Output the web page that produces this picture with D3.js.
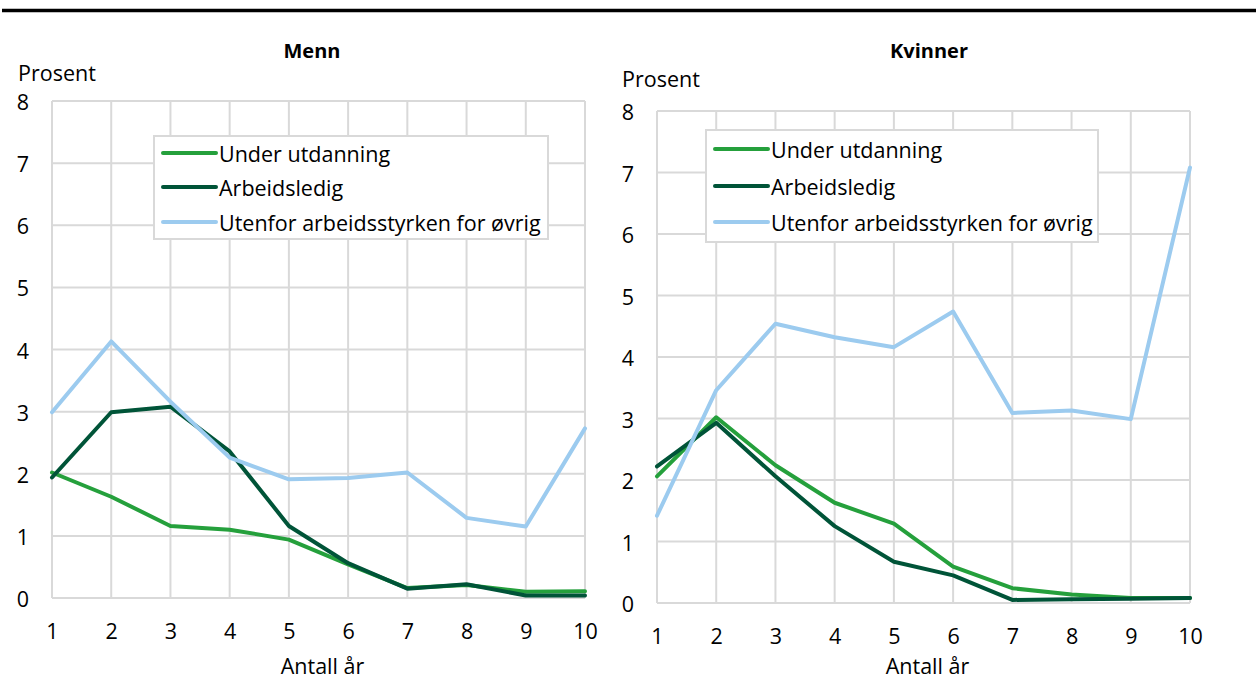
<!DOCTYPE html>
<html>
<head>
<meta charset="utf-8">
<script src="https://cdn.jsdelivr.net/npm/d3@7"></script>
<style>
  html, body { margin: 0; padding: 0; background: #fff; }
  svg { display: block; font-family: "Open Sans", "Noto Sans", sans-serif; }
</style>
</head>
<body>
<svg id="chart" width="1258" height="678"></svg>
<script>
// ---- Data ----
const years = [1, 2, 3, 4, 5, 6, 7, 8, 9, 10];
const yTicks = [0, 1, 2, 3, 4, 5, 6, 7, 8];
const seriesNames = ["Under utdanning", "Arbeidsledig", "Utenfor arbeidsstyrken for øvrig"];
const seriesColors = ["#25a03c", "#005438", "#9ccbef"];

const mennUnderUtdanning = [2.02, 1.63, 1.16, 1.10, 0.94, 0.54, 0.16, 0.21, 0.10, 0.11];
const mennArbeidsledig   = [1.94, 2.99, 3.08, 2.36, 1.16, 0.56, 0.15, 0.22, 0.04, 0.04];
const mennUtenfor        = [2.99, 4.13, 3.16, 2.26, 1.91, 1.93, 2.02, 1.29, 1.15, 2.73];

const kvinnerUnderUtdanning = [2.06, 3.02, 2.24, 1.63, 1.29, 0.59, 0.24, 0.14, 0.08, 0.08];
const kvinnerArbeidsledig   = [2.22, 2.93, 2.06, 1.25, 0.67, 0.45, 0.05, 0.06, 0.07, 0.08];
const kvinnerUtenfor        = [1.42, 3.46, 4.54, 4.32, 4.16, 4.74, 3.09, 3.13, 2.99, 7.08];

const xLabel = "Antall år";
const yLabel = "Prosent";

// ---- Drawing ----
const FS = 21.5;
const svg = d3.select("#chart");

// top rule
svg.append("line")
  .attr("x1", 2).attr("x2", 1256).attr("y1", 10.5).attr("y2", 10.5)
  .attr("stroke", "#000").attr("stroke-width", 3.5);

function panel(cfg) {
  const x = d3.scaleLinear().domain([1, 10]).range([cfg.left, cfg.right]);
  const y = d3.scaleLinear().domain([0, 8]).range([cfg.bottom, cfg.top]);
  const g = svg.append("g");

  // grid
  g.append("g").selectAll("line").data(yTicks).join("line")
    .attr("x1", cfg.left).attr("x2", cfg.right)
    .attr("y1", d => y(d)).attr("y2", d => y(d))
    .attr("stroke", "#d9d9d9").attr("stroke-width", 2);
  g.append("g").selectAll("line").data(years).join("line")
    .attr("x1", d => x(d)).attr("x2", d => x(d))
    .attr("y1", cfg.top).attr("y2", cfg.bottom)
    .attr("stroke", "#d9d9d9").attr("stroke-width", 2);

  // axes (labels only)
  const yAxis = d3.axisLeft(y).tickValues(yTicks).tickSize(0).tickPadding(0).tickFormat(d3.format("d"));
  const ya = g.append("g").attr("transform", `translate(${cfg.left - 23},0)`).call(yAxis);
  ya.select(".domain").remove();
  ya.attr("font-size", FS).attr("font-family", null);
  ya.selectAll("text").attr("fill", "#000").attr("dy", null).attr("dominant-baseline", "central");

  const xAxis = d3.axisBottom(x).tickValues(years).tickSize(0).tickPadding(0).tickFormat(d3.format("d"));
  const xa = g.append("g").attr("transform", `translate(0,${cfg.bottom + 32})`).call(xAxis);
  xa.select(".domain").remove();
  xa.attr("font-size", FS).attr("font-family", null);
  xa.selectAll("text").attr("fill", "#000").attr("dy", null).attr("dominant-baseline", "central");

  // labels
  g.append("text").attr("x", (cfg.left + cfg.right) / 2 + 4).attr("y", 665)
    .attr("text-anchor", "middle").attr("font-size", FS).attr("dominant-baseline", "central").text(xLabel);
  g.append("text").attr("x", cfg.profX).attr("y", cfg.profY)
    .attr("font-size", FS).attr("dominant-baseline", "central").text(yLabel);
  g.append("text").attr("x", cfg.titleX).attr("y", 50)
    .attr("text-anchor", "middle").attr("font-size", 20).attr("font-weight", "bold")
    .attr("dominant-baseline", "central").text(cfg.title);

  // lines
  const line = d3.line().x((d, i) => x(years[i])).y(d => y(d));
  cfg.series.forEach((s, i) => {
    g.append("path").datum(s)
      .attr("d", line)
      .attr("fill", "none")
      .attr("stroke", seriesColors[i])
      .attr("stroke-width", 4)
      .attr("stroke-linejoin", "round")
      .attr("stroke-linecap", "round");
  });

  // legend
  const lg = g.append("g");
  lg.append("rect")
    .attr("x", cfg.leg.x).attr("y", cfg.leg.y)
    .attr("width", cfg.leg.w).attr("height", cfg.leg.h)
    .attr("fill", "#fff").attr("stroke", "#d9d9d9").attr("stroke-width", 2);
  seriesNames.forEach((name, i) => {
    const ry = cfg.leg.rows[i];
    lg.append("line")
      .attr("x1", cfg.leg.x + 9).attr("x2", cfg.leg.x + 62)
      .attr("y1", ry).attr("y2", ry)
      .attr("stroke", seriesColors[i]).attr("stroke-width", 4)
      .attr("stroke-linecap", "round");
    lg.append("text")
      .attr("x", cfg.leg.x + 65).attr("y", ry)
      .attr("dominant-baseline", "central")
      .attr("font-size", FS).text(name);
  });
}

panel({
  title: "Menn", titleX: 312,
  left: 52, right: 585, top: 101, bottom: 598,
  profX: 18, profY: 72,
  series: [mennUnderUtdanning, mennArbeidsledig, mennUtenfor],
  leg: { x: 154, y: 136, w: 394, h: 103, rows: [153, 187, 222] }
});

panel({
  title: "Kvinner", titleX: 929,
  left: 657, right: 1190, top: 111, bottom: 603,
  profX: 622, profY: 78,
  series: [kvinnerUnderUtdanning, kvinnerArbeidsledig, kvinnerUtenfor],
  leg: { x: 706, y: 130, w: 392, h: 112, rows: [149, 186, 222] }
});
</script>
</body>
</html>
